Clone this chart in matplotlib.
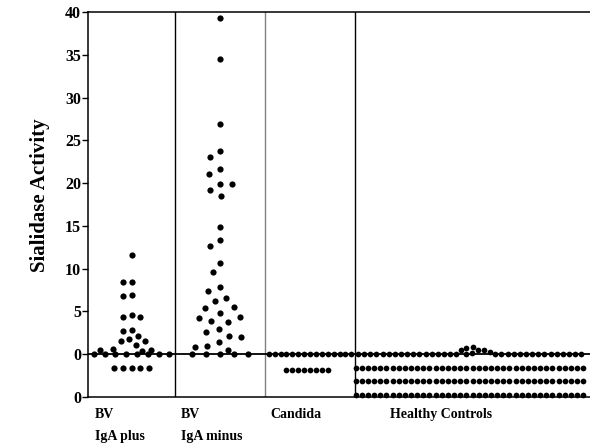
"""
Dot plot of sialidase activity per patient group (BV IgA plus / BV IgA minus /
Candida / healthy controls). Dots are laid out with a small beeswarm so that
equal or near-equal readings sit side by side instead of on top of each other.
"""

import matplotlib
matplotlib.use("Agg")
import matplotlib.pyplot as plt
import numpy as np

# ---- values. The rows drawn below the zero line are
# the overflow rows of zero readings; they are kept at the height drawn. ----
bv_iga_plus = [11.6, 8.4, 8.4, 6.8, 6.9, 4.6, 4.4, 4.3, 2.8, 2.7, 2.1, 1.8,
               1.5, 1.5, 1.1, 0.65, 0.55, 0.5, 0.35,
               0, 0, 0, 0, 0, 0, 0, 0,
               -1.6, -1.6, -1.6, -1.6, -1.6]
bv_iga_minus = [39.3, 34.5, 26.9, 23.8, 23.0, 21.7, 21.1, 19.9, 19.9, 19.2,
                18.5, 14.9, 13.3, 12.6, 10.7, 9.6, 7.8, 7.4, 6.6, 6.2, 5.5,
                5.4, 4.8, 4.3, 4.2, 3.9, 3.8, 2.9, 2.6, 2.1, 2.0, 1.4, 1.0,
                0.9, 0.5, 0, 0, 0, 0, 0]
candida = [0] * 15 + [-1.8] * 8
healthy = ([0.9, 0.75, 0.5, 0.5, 0.5, 0.3, 0.15] + [0] * 33
           + [-1.6] * 38 + [-3.15] * 38 + [-4.8] * 38)

groups = [bv_iga_plus, bv_iga_minus, candida, healthy]
group_line1 = ["BV", "BV", "Candida", "Healthy Controls"]
group_line2 = ["IgA plus", "IgA minus", "", ""]

y_ticks = [-5, 0, 5, 10, 15, 20, 25, 30, 35, 40]
y_tick_labels = ["0", "0", "5", "10", "15", "20", "25", "30", "35", "40"]

# ---- layout (x data units are roughly pixels from the y axis) ----
GROUP_EDGES = [0, 87, 177, 267, 502]
DIVIDER_COLORS = ["black", "#808080", "black"]
LABEL_X = [7, 93, 182, 302]
SWARM_DIAM = [8.8, 12.0, 5.9, 6.15]   # collision diameter, display pixels
ZERO_ROW_GAP = [10.8, 14.0, None, None]  # None: zero row is swarmed too
TOUCH = 6.0                             # dot-to-dot contact distance
DOT_SIZE = [20, 20, 17, 17]

plt.rcParams["font.family"] = ["Liberation Serif", "DejaVu Serif"]
plt.rcParams["font.weight"] = "bold"


def layout_offsets(vals, ys_px, diam, zero_gap):
    """Rows of zero/overflow readings get evenly spaced (if zero_gap is set),
    the rest is a greedy beeswarm: each dot takes the free x offset nearest 0."""
    offs = np.zeros(len(vals))
    placed = []  # (x, y, contact distance)
    if zero_gap is None:
        free_idx = range(len(vals))
    else:
        for v in sorted({w for w in vals if w <= 0}):
            idx = [i for i, w in enumerate(vals) if w == v]
            gap = zero_gap if v == 0 else diam
            xs = (np.arange(len(idx)) - (len(idx) - 1) / 2) * gap
            for i, x in zip(idx, xs):
                offs[i] = x
                placed.append((x, ys_px[i], TOUCH))
        free_idx = [i for i, w in enumerate(vals) if w > 0]

    for i in free_idx:
        y = ys_px[i]
        near = [(px, py, d) for px, py, d in placed if abs(py - y) < d]
        cands = [0.0]
        for px, py, d in near:
            dx = np.sqrt(d * d - (py - y) ** 2)
            cands += [px - dx, px + dx]
        cands.sort(key=abs)
        for c in cands:
            if all((c - px) ** 2 + (y - py) ** 2 >= d * d - 1e-6 for px, py, d in near):
                break
        offs[i] = c
        placed.append((c, y, diam))
    return offs


fig = plt.figure(figsize=(5.9, 4.44), dpi=100)
ax = fig.add_axes([88 / 590, 1 - 397 / 444, 502 / 590, 385 / 444])
ax.set_xlim(GROUP_EDGES[0], GROUP_EDGES[-1])
ax.set_ylim(-5, 40)

for i, vals in enumerate(groups):
    vals = sorted(vals, reverse=True)
    center = (GROUP_EDGES[i] + GROUP_EDGES[i + 1]) / 2
    disp = ax.transData.transform(np.column_stack([np.full(len(vals), center), vals]))
    disp[:, 0] += layout_offsets(vals, disp[:, 1], SWARM_DIAM[i], ZERO_ROW_GAP[i])
    pts = ax.transData.inverted().transform(disp)
    ax.scatter(pts[:, 0], pts[:, 1], s=DOT_SIZE[i], color="black",
               linewidths=0, zorder=3, clip_on=False)

for x, c in zip(GROUP_EDGES[1:-1], DIVIDER_COLORS):
    ax.axvline(x, color=c, lw=1.0, zorder=1)
ax.axhline(0, color="black", lw=1.3, zorder=2)

ax.spines["right"].set_visible(False)
for s in ("left", "bottom", "top"):
    ax.spines[s].set_linewidth(1.1)

ax.set_yticks(y_ticks)
ax.set_yticklabels(y_tick_labels)
ax.set_xticks([])
ax.tick_params(axis="y", direction="out", length=4, width=1, pad=1, labelsize=11.5)

for x, l1, l2 in zip(LABEL_X, group_line1, group_line2):
    ax.text(x, -0.055, l1, transform=ax.get_xaxis_transform(),
            ha="left", va="baseline", fontsize=10, fontweight="bold")
    if l2:
        ax.text(x, -0.112, l2, transform=ax.get_xaxis_transform(),
                ha="left", va="baseline", fontsize=10, fontweight="bold")

fig.text(40 / 590, 1 - 195 / 444, "Sialidase Activity", rotation=90,
         ha="center", va="center", fontsize=15, fontweight="bold")

fig.savefig("out.png", dpi=100)
